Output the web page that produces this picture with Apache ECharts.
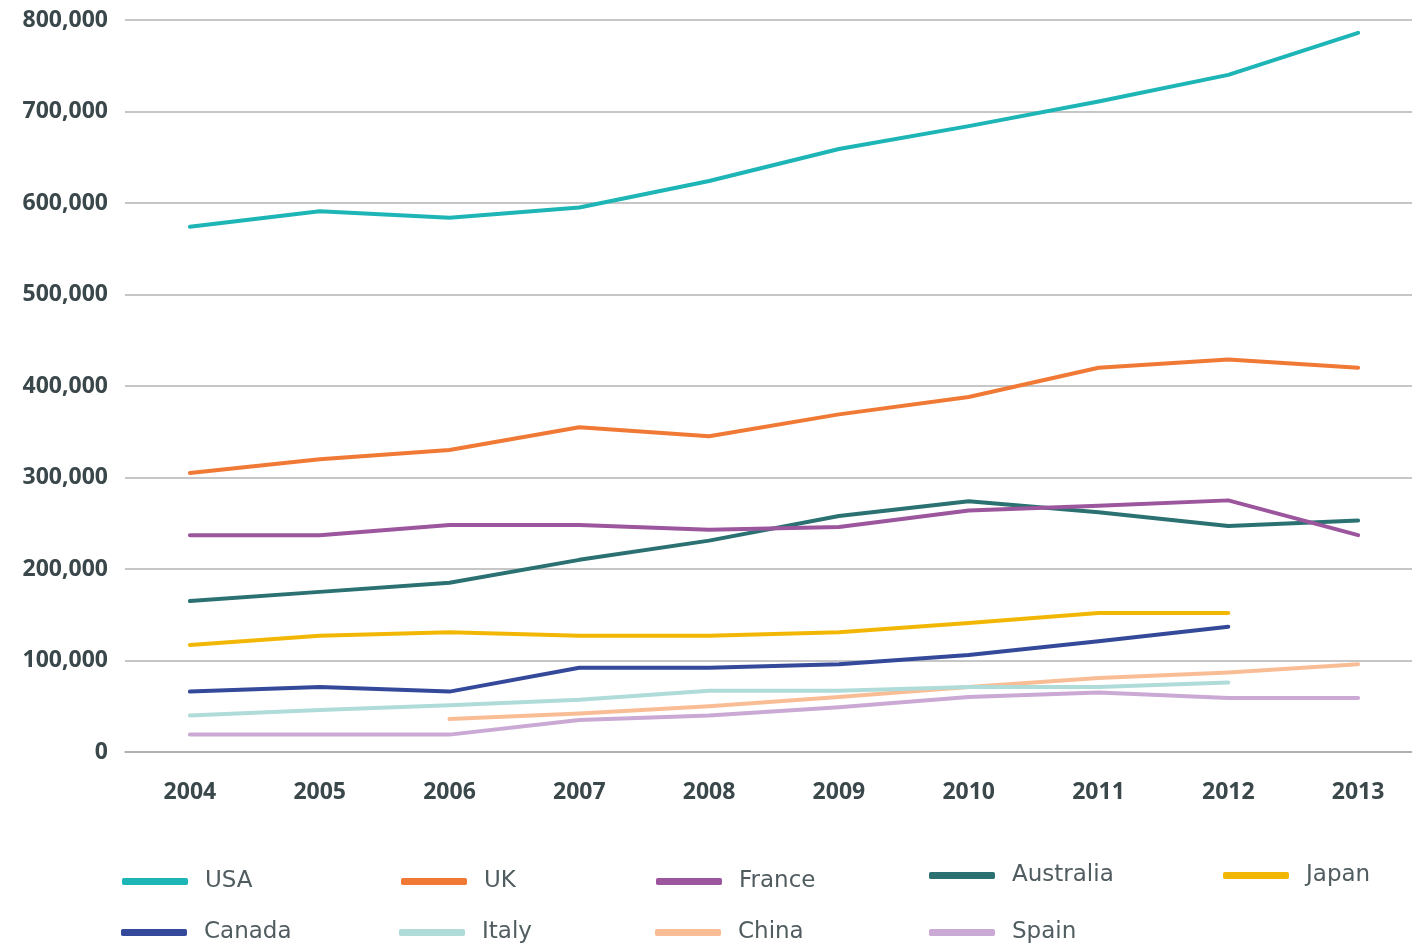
<!DOCTYPE html>
<html>
<head>
<meta charset="utf-8">
<script src="https://cdn.jsdelivr.net/npm/echarts@6/dist/echarts.min.js"></script>
<style>
html,body{margin:0;padding:0;background:#fff;}
#chart{width:1412px;height:944px;}
</style>
</head>
<body>
<div id="chart"></div>
<script>
const years = ['2004','2005','2006','2007','2008','2009','2010','2011','2012','2013'];
const usa = [574000, 591000, 584000, 595000, 624000, 659000, 684000, 711000, 740000, 786000];
const uk = [305000, 320000, 330000, 355000, 345000, 369000, 388000, 420000, 429000, 420000];
const france = [237000, 237000, 248000, 248000, 243000, 246000, 264000, 269000, 275000, 237000];
const australia = [165000, 175000, 185000, 210000, 231000, 258000, 274000, 262000, 247000, 253000];
const japan = [117000, 127000, 131000, 127000, 127000, 131000, 141000, 152000, 152000, null];
const canada = [66000, 71000, 66000, 92000, 92000, 96000, 106000, 121000, 137000, null];
const italy = [40000, 46000, 51000, 57000, 67000, 67000, 71000, 71000, 76000, null];
const china = [null, null, 36000, 42000, 50000, 60000, 71000, 81000, 87000, 96000];
const spain = [19000, 19000, 19000, 35000, 40000, 49000, 60000, 65000, 59000, 59000];

const names = ['USA','UK','France','Australia','Japan','Canada','Italy','China','Spain'];
const values = [usa, uk, france, australia, japan, canada, italy, china, spain];
const colors = ['#1db5b6','#f07a35','#9c569d','#2b7171','#f2b705','#34499a','#afdcd9','#f9bd96','#caa9d4'];

const legendPos = [
  [122, 870], [401, 870], [656, 870], [929, 864], [1223, 864],
  [121, 921], [399, 921], [655, 921], [929, 921]
];

const chart = echarts.init(document.getElementById('chart'));
const legends = names.map((n, i) => ({
  data: [n],
  left: legendPos[i][0],
  top: legendPos[i][1],
  padding: 0,
  icon: 'roundRect',
  itemWidth: 66,
  itemHeight: 7,
  itemGap: 0,
  selectedMode: false,
  textStyle: { fontFamily: 'DejaVu Sans', fontSize: 23, color: '#505c60', padding: [0, 0, 0, 12] }
}));

chart.setOption({
  animation: false,
  backgroundColor: '#ffffff',
  grid: { left: 125, width: 1298, top: 20, bottom: 192, outerBoundsMode: 'none', containLabel: false },
  legend: legends,
  xAxis: {
    type: 'category',
    data: years,
    boundaryGap: true,
    axisLine: { lineStyle: { color: '#a9a9a9', width: 1.5 } },
    axisTick: { length: 13, lineStyle: { color: '#a9a9a9', width: 1.5 } },
    axisLabel: { margin: 29, fontFamily: 'Open Sans', fontWeight: 'bold', fontSize: 23, color: '#3a474b' },
    splitLine: { show: false }
  },
  yAxis: {
    type: 'value',
    min: 0,
    max: 800000,
    interval: 100000,
    axisLine: { show: false },
    axisTick: { show: false },
    axisLabel: {
      margin: 17,
      fontFamily: 'Open Sans', fontWeight: 'bold', fontSize: 23, color: '#3a474b',
      formatter: v => v.toLocaleString('en-US')
    },
    splitLine: { lineStyle: { color: '#b3b3b3', width: 1.5 } }
  },
  series: names.map((n, i) => ({
    name: n,
    type: 'line',
    data: values[i],
    showSymbol: false,
    symbol: 'none',
    smooth: false,
    color: colors[i],
    lineStyle: { width: 4, color: colors[i], cap: 'round', join: 'round' },
    itemStyle: { color: colors[i] },
    z: 10 - i
  }))
});
</script>
</body>
</html>
